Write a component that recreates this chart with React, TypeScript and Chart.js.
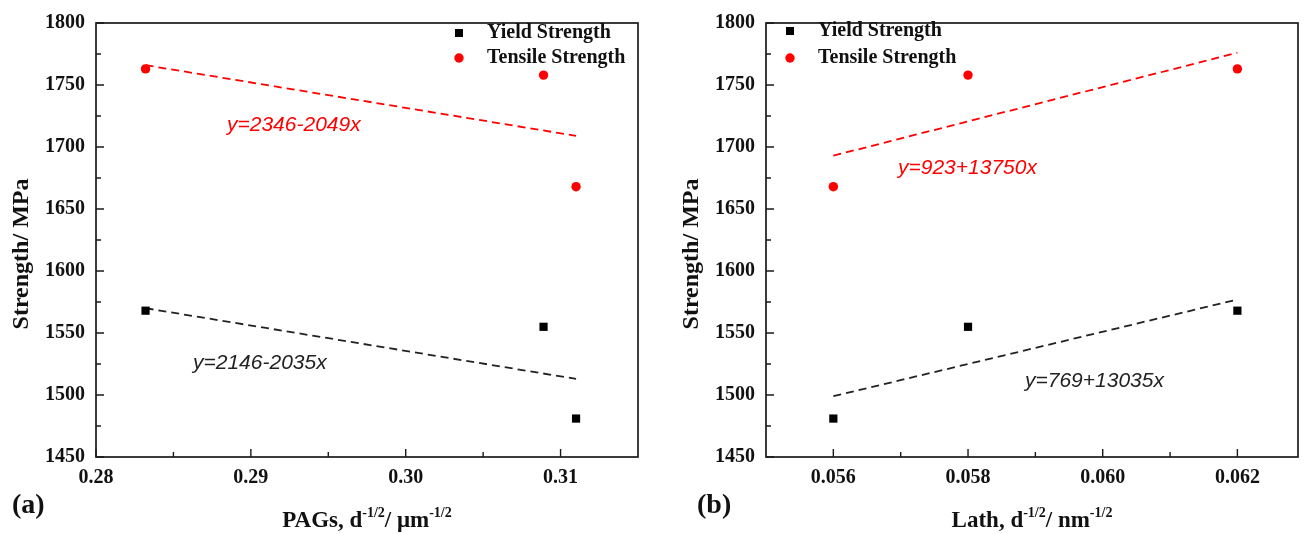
import React, { useEffect, useRef } from "react";
import { Chart, registerables } from "chart.js";

Chart.register(...registerables);

// ---- data ----
const yieldStrength = [1568, 1555, 1481];
const tensileStrength = [1763, 1758, 1668];
const pagValues = [0.2832, 0.3089, 0.311];
const lathValues = [0.062, 0.058, 0.056];

const strengthTicks = [1450, 1500, 1550, 1600, 1650, 1700, 1750, 1800];
const strengthMinorTicks = [1475, 1525, 1575, 1625, 1675, 1725, 1775];
const pagTicks = [0.28, 0.29, 0.3, 0.31];
const pagMinorTicks = [0.285, 0.295, 0.305];
const lathTicks = [0.056, 0.058, 0.06, 0.062];
const lathMinorTicks = [0.057, 0.059, 0.061];

// fitted lines (end points)
const pagFitX = [0.2832, 0.311];
const pagYieldFit = [1570, 1513];
const pagTensileFit = [1766, 1709];
const lathFitX = [0.056, 0.062];
const lathYieldFit = [1499, 1577];
const lathTensileFit = [1693, 1776];

const legendLabels = ["Yield Strength", "Tensile Strength"];
const pagEquations = ["y=2346-2049x", "y=2146-2035x"];
const lathEquations = ["y=923+13750x", "y=769+13035x"];

const SERIF = "'Liberation Serif', 'Times New Roman', Times, serif";
const SANS = "'Liberation Sans', Arial, Helvetica, sans-serif";
const RED = "#ff0000";
const BLACK = "#000000";

type Part = { text: string; sup?: boolean };

interface PanelSpec {
  xValues: number[];
  xMin: number;
  xMax: number;
  xTicks: number[];
  xMinor: number[];
  decimals: number;
  fitX: number[];
  yieldFit: number[];
  tensileFit: number[];
  yAxisWidth: number;
  padRight: number;
  legend: { markerX: number; textX: number; y1: number; y2: number };
  equations: string[];
  eqPos: { red: [number, number]; black: [number, number] };
  letter: string;
  letterPos: [number, number];
  yTitlePos: [number, number];
  xTitle: Part[];
}

function drawRich(ctx: CanvasRenderingContext2D, parts: Part[], cx: number, cy: number, size: number) {
  const main = `bold ${size}px ${SERIF}`;
  const sup = `bold ${Math.round(size * 0.6)}px ${SERIF}`;
  let total = 0;
  const widths = parts.map((p) => {
    ctx.font = p.sup ? sup : main;
    const w = ctx.measureText(p.text).width;
    total += w;
    return w;
  });
  let x = cx - total / 2;
  const base = cy + size * 0.33;
  ctx.textAlign = "left";
  ctx.textBaseline = "alphabetic";
  parts.forEach((p, i) => {
    ctx.font = p.sup ? sup : main;
    ctx.fillText(p.text, x, p.sup ? base - size * 0.42 : base);
    x += widths[i];
  });
}

function makeDecorPlugin(spec: PanelSpec) {
  return {
    id: "decor",
    afterDraw(chart: any) {
      const { ctx, chartArea: a } = chart;
      const xs = chart.scales.x;
      const ys = chart.scales.y;
      ctx.save();
      // frame
      ctx.strokeStyle = "#1a1a1a";
      ctx.lineWidth = 1.7;
      ctx.setLineDash([]);
      ctx.strokeRect(a.left, a.top, a.right - a.left, a.bottom - a.top);
      // ticks (inward)
      ctx.lineWidth = 1.4;
      ctx.beginPath();
      strengthTicks.forEach((v) => {
        const p = ys.getPixelForValue(v);
        ctx.moveTo(a.left, p);
        ctx.lineTo(a.left + 8, p);
      });
      strengthMinorTicks.forEach((v) => {
        const p = ys.getPixelForValue(v);
        ctx.moveTo(a.left, p);
        ctx.lineTo(a.left + 5, p);
      });
      spec.xTicks.forEach((v) => {
        const p = xs.getPixelForValue(v);
        ctx.moveTo(p, a.bottom);
        ctx.lineTo(p, a.bottom - 8);
      });
      spec.xMinor.forEach((v) => {
        const p = xs.getPixelForValue(v);
        ctx.moveTo(p, a.bottom);
        ctx.lineTo(p, a.bottom - 5);
      });
      ctx.stroke();

      // legend
      const L = spec.legend;
      ctx.fillStyle = BLACK;
      ctx.fillRect(L.markerX - 4, L.y1 - 4, 8, 8);
      ctx.fillStyle = RED;
      ctx.beginPath();
      ctx.arc(L.markerX, L.y2, 4.7, 0, Math.PI * 2);
      ctx.fill();
      ctx.fillStyle = "#111";
      ctx.font = `bold 20px ${SERIF}`;
      ctx.textAlign = "left";
      ctx.textBaseline = "middle";
      ctx.fillText(legendLabels[0], L.textX, L.y1);
      ctx.fillText(legendLabels[1], L.textX, L.y2);

      // equations
      ctx.font = `italic 21px ${SANS}`;
      ctx.fillStyle = RED;
      ctx.fillText(spec.equations[0], spec.eqPos.red[0], spec.eqPos.red[1]);
      ctx.fillStyle = "#222";
      ctx.fillText(spec.equations[1], spec.eqPos.black[0], spec.eqPos.black[1]);

      // y title
      ctx.fillStyle = "#111";
      ctx.save();
      ctx.translate(spec.yTitlePos[0], spec.yTitlePos[1]);
      ctx.rotate(-Math.PI / 2);
      ctx.font = `bold 24px ${SERIF}`;
      ctx.textAlign = "center";
      ctx.textBaseline = "middle";
      ctx.fillText("Strength/ MPa", 0, 0);
      ctx.restore();

      // x title
      drawRich(ctx, spec.xTitle, (a.left + a.right) / 2, 519, 23);

      // panel letter
      ctx.font = `bold 28px ${SERIF}`;
      ctx.textAlign = "left";
      ctx.textBaseline = "middle";
      ctx.fillText(spec.letter, spec.letterPos[0], spec.letterPos[1]);
      ctx.restore();
    },
  };
}

function buildChart(canvas: HTMLCanvasElement, spec: PanelSpec) {
  const tickFont = { family: SERIF, size: 20, weight: "bold" as const };
  const pts = (vals: number[]) => spec.xValues.map((x, i) => ({ x, y: vals[i] }));
  const line = (vals: number[]) => spec.fitX.map((x, i) => ({ x, y: vals[i] }));
  return new Chart(canvas, {
    type: "scatter",
    data: {
      datasets: [
        {
          label: legendLabels[0],
          data: pts(yieldStrength),
          pointStyle: "rect",
          pointRadius: 5.8,
          backgroundColor: BLACK,
          borderColor: BLACK,
          borderWidth: 0,
        },
        {
          label: legendLabels[1],
          data: pts(tensileStrength),
          pointStyle: "circle",
          pointRadius: 4.7,
          backgroundColor: RED,
          borderColor: RED,
          borderWidth: 0,
        },
        {
          label: "yield fit",
          data: line(spec.yieldFit),
          showLine: true,
          pointRadius: 0,
          borderColor: "#222",
          borderWidth: 1.8,
          borderDash: [8, 5],
        },
        {
          label: "tensile fit",
          data: line(spec.tensileFit),
          showLine: true,
          pointRadius: 0,
          borderColor: RED,
          borderWidth: 1.8,
          borderDash: [8, 5],
        },
      ],
    },
    options: {
      responsive: false,
      animation: false,
      layout: { padding: { top: 19, right: spec.padRight, left: 0, bottom: 0 } },
      plugins: { legend: { display: false }, tooltip: { enabled: false } },
      scales: {
        x: {
          type: "linear",
          min: spec.xMin,
          max: spec.xMax,
          afterBuildTicks: (ax: any) => {
            ax.ticks = spec.xTicks.map((v) => ({ value: v }));
          },
          afterFit: (ax: any) => {
            ax.height = 77;
          },
          grid: { display: false, drawTicks: false },
          border: { display: false },
          ticks: {
            font: tickFont,
            color: "#111",
            padding: 9,
            maxRotation: 0,
            autoSkip: false,
            callback: (v: any) => Number(v).toFixed(spec.decimals),
          },
        },
        y: {
          type: "linear",
          min: 1450,
          max: 1800,
          afterBuildTicks: (ax: any) => {
            ax.ticks = strengthTicks.map((v) => ({ value: v }));
          },
          afterFit: (ax: any) => {
            ax.width = spec.yAxisWidth;
          },
          grid: { display: false, drawTicks: false },
          border: { display: false },
          ticks: {
            font: tickFont,
            color: "#111",
            padding: 11,
            autoSkip: false,
            callback: (v: any) => String(v),
          },
        },
      },
    },
    plugins: [makeDecorPlugin(spec)],
  } as any);
}

const leftSpec: PanelSpec = {
  xValues: pagValues,
  xMin: 0.28,
  xMax: 0.315,
  xTicks: pagTicks,
  xMinor: pagMinorTicks,
  decimals: 2,
  fitX: pagFitX,
  yieldFit: pagYieldFit,
  tensileFit: pagTensileFit,
  yAxisWidth: 96,
  padRight: 18,
  legend: { markerX: 459, textX: 487, y1: 33, y2: 58 },
  equations: pagEquations,
  eqPos: { red: [227, 125], black: [193, 363] },
  letter: "(a)",
  letterPos: [12, 506],
  yTitlePos: [22, 254],
  xTitle: [
    { text: "PAGs, d" },
    { text: "-1/2", sup: true },
    { text: "/ \u03bcm" },
    { text: "-1/2", sup: true },
  ],
};

const rightSpec: PanelSpec = {
  xValues: lathValues,
  xMin: 0.055,
  xMax: 0.0629,
  xTicks: lathTicks,
  xMinor: lathMinorTicks,
  decimals: 3,
  fitX: lathFitX,
  yieldFit: lathYieldFit,
  tensileFit: lathTensileFit,
  yAxisWidth: 110,
  padRight: 14,
  legend: { markerX: 134, textX: 162, y1: 31, y2: 58 },
  equations: lathEquations,
  eqPos: { red: [242, 168], black: [369, 381] },
  letter: "(b)",
  letterPos: [41, 506],
  yTitlePos: [36, 254],
  xTitle: [
    { text: "Lath, d" },
    { text: "-1/2", sup: true },
    { text: "/ nm" },
    { text: "-1/2", sup: true },
  ],
};

function Panel({ spec, left }: { spec: PanelSpec; left: number }) {
  const ref = useRef<HTMLCanvasElement | null>(null);
  useEffect(() => {
    if (!ref.current) return;
    const chart = buildChart(ref.current, spec);
    return () => chart.destroy();
  }, [spec]);
  return (
    <canvas
      ref={ref}
      width={656}
      height={534}
      style={{ position: "absolute", left, top: 0, width: 656, height: 534 }}
    />
  );
}

export default function App() {
  return (
    <div
      style={{
        position: "absolute",
        left: 0,
        top: 0,
        width: 1312,
        height: 534,
        background: "#ffffff",
        overflow: "hidden",
      }}
    >
      <Panel spec={leftSpec} left={0} />
      <Panel spec={rightSpec} left={656} />
    </div>
  );
}
